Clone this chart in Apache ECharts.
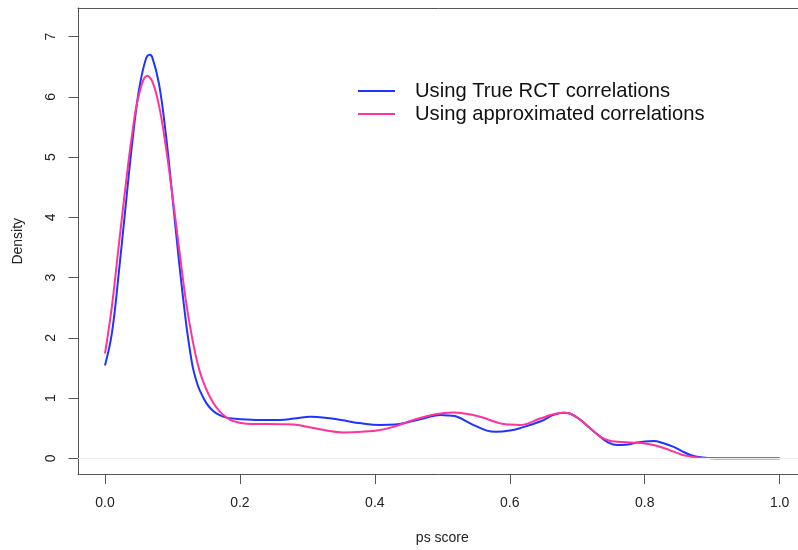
<!DOCTYPE html>
<html>
<head>
<meta charset="utf-8">
<script src="https://cdn.jsdelivr.net/npm/echarts@6/dist/echarts.min.js"></script>
<style>
html,body{margin:0;padding:0;background:#fff;overflow:hidden;}
#chart{width:798px;height:550px;}
</style>
</head>
<body>
<div id="chart"></div>
<script>
// ---- data ----
const seriesNames = ['Using True RCT correlations', 'Using approximated correlations'];
const xTicks = [0, 0.2, 0.4, 0.6, 0.8, 1.0];
const yTicks = [0, 1, 2, 3, 4, 5, 6, 7];

const trueX = [0, 0.01, 0.02, 0.03, 0.04, 0.05, 0.06, 0.066, 0.07, 0.08, 0.09, 0.10, 0.11, 0.12, 0.125, 0.13, 0.135, 0.14, 0.15, 0.16, 0.17, 0.18, 0.20, 0.23, 0.26, 0.28, 0.305, 0.33, 0.35, 0.38, 0.408, 0.43, 0.453, 0.475, 0.497, 0.51, 0.522, 0.545, 0.566, 0.58, 0.60, 0.615, 0.645, 0.665, 0.68, 0.69, 0.705, 0.72, 0.734, 0.745, 0.759, 0.772, 0.784, 0.80, 0.813, 0.828, 0.843, 0.855, 0.868, 0.88, 0.895, 0.92, 0.96, 1.0];
const trueY = [1.54, 2.06, 3.03, 4.12, 5.2, 6.09, 6.61, 6.70, 6.66, 6.22, 5.40, 4.34, 3.24, 2.26, 1.86, 1.52, 1.30, 1.14, 0.92, 0.79, 0.715, 0.675, 0.65, 0.635, 0.636, 0.66, 0.69, 0.67, 0.636, 0.58, 0.553, 0.56, 0.61, 0.67, 0.72, 0.71, 0.69, 0.56, 0.46, 0.44, 0.46, 0.50, 0.61, 0.72, 0.757, 0.74, 0.636, 0.49, 0.36, 0.27, 0.22, 0.225, 0.25, 0.28, 0.287, 0.25, 0.19, 0.12, 0.055, 0.02, 0.005, 0, 0, 0];

const approxX = [0, 0.01, 0.02, 0.03, 0.04, 0.05, 0.0627, 0.07, 0.08, 0.09, 0.10, 0.11, 0.12, 0.13, 0.14, 0.15, 0.16, 0.17, 0.18, 0.19, 0.21, 0.26, 0.28, 0.30, 0.325, 0.354, 0.38, 0.408, 0.43, 0.457, 0.49, 0.516, 0.535, 0.556, 0.586, 0.60, 0.615, 0.645, 0.665, 0.68, 0.69, 0.705, 0.72, 0.734, 0.748, 0.759, 0.784, 0.80, 0.813, 0.828, 0.843, 0.855, 0.868, 0.88, 0.90, 0.92, 1.0];
const approxY = [1.74, 2.5, 3.49, 4.47, 5.36, 6.02, 6.35, 6.26, 5.86, 5.19, 4.36, 3.47, 2.61, 1.95, 1.46, 1.15, 0.93, 0.78, 0.68, 0.62, 0.575, 0.565, 0.56, 0.525, 0.47, 0.43, 0.44, 0.47, 0.53, 0.636, 0.73, 0.76, 0.74, 0.69, 0.58, 0.56, 0.553, 0.66, 0.73, 0.757, 0.74, 0.636, 0.49, 0.36, 0.29, 0.275, 0.26, 0.245, 0.22, 0.17, 0.11, 0.06, 0.03, 0.01, 0.002, 0, 0];

const colors = ['#1f35ff', '#ff3399'];
const FONT = '"Liberation Sans", Arial, Helvetica, sans-serif';
const X_MIN = -0.04, X_MAX = 1.04, Y_MIN = -0.269, Y_MAX = 7.476;

const chart = echarts.init(document.getElementById('chart'), null, {renderer: 'canvas'});
chart.setOption({
  animation: false,
  backgroundColor: '#ffffff',
  textStyle: {fontFamily: FONT},
  grid: {
    left: 78, top: 8, width: 728.6, height: 466.5,
    show: false, outerBoundsMode: 'none', containLabel: false
  },
  legend: {
    orient: 'vertical', left: 358, top: 79.5, padding: 0, itemGap: 0,
    itemWidth: 37, itemHeight: 2, icon: 'rect',
    textStyle: {fontSize: 20.2, color: '#111', fontFamily: FONT, lineHeight: 23, padding: [0, 0, 0, 15]},
    data: seriesNames
  },
  xAxis: [{
    type: 'value', min: X_MIN, max: X_MAX, position: 'bottom',
    name: 'ps score', nameLocation: 'middle', nameGap: 57,
    nameTextStyle: {fontSize: 14, color: '#222', fontFamily: FONT},
    axisLine: {show: true, onZero: false, lineStyle: {color: '#555', width: 1}},
    axisTick: {show: true, length: 9.5, inside: false, customValues: xTicks, lineStyle: {color: '#555'}},
    axisLabel: {customValues: xTicks, fontSize: 14, color: '#222', margin: 22, fontFamily: FONT,
      formatter: v => v.toFixed(1)},
    splitLine: {show: false}
  }, {
    type: 'value', min: X_MIN, max: X_MAX, position: 'top',
    axisLine: {show: true, onZero: false, lineStyle: {color: '#555', width: 1}},
    axisTick: {show: false}, axisLabel: {show: false}, splitLine: {show: false}
  }],
  yAxis: {
    type: 'value', min: Y_MIN, max: Y_MAX, position: 'left',
    name: 'Density', nameLocation: 'middle', nameGap: 53, nameRotate: 90,
    nameTextStyle: {fontSize: 14, color: '#222', fontFamily: FONT},
    axisLine: {show: true, onZero: false, lineStyle: {color: '#555', width: 1}},
    axisTick: {show: true, length: 9.5, customValues: yTicks, lineStyle: {color: '#555'}},
    axisLabel: {customValues: yTicks, fontSize: 14, color: '#222', margin: 20, rotate: 90, fontFamily: FONT,
      formatter: v => String(Math.round(v))},
    splitLine: {show: false}
  },
  series: [
    {
      name: seriesNames[0], type: 'line', showSymbol: false, symbol: 'none',
      smooth: 0.4, xAxisIndex: 0,
      lineStyle: {color: colors[0], width: 2}, itemStyle: {color: colors[0]},
      data: trueX.map((x, i) => [x, trueY[i]]),
      markLine: {
        silent: true, symbol: 'none', label: {show: false},
        lineStyle: {color: '#eeeeee', type: 'solid', width: 1},
        data: [{yAxis: 0}]
      }
    },
    {
      name: seriesNames[1], type: 'line', showSymbol: false, symbol: 'none',
      smooth: 0.4, xAxisIndex: 0,
      lineStyle: {color: colors[1], width: 2}, itemStyle: {color: colors[1]},
      data: approxX.map((x, i) => [x, approxY[i]])
    }
  ]
});
</script>
</body>
</html>
